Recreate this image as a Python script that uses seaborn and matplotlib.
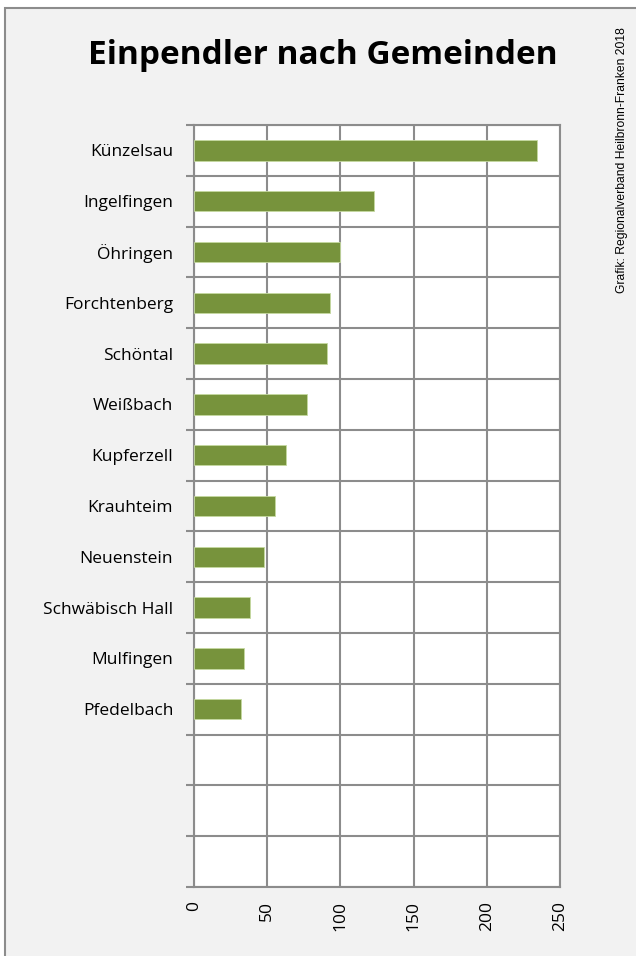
import matplotlib
matplotlib.use("Agg")
import matplotlib.pyplot as plt
import seaborn as sns
import pandas as pd
import numpy as np
from matplotlib.patches import Rectangle

gemeinden = ["Künzelsau", "Ingelfingen", "Öhringen", "Forchtenberg", "Schöntal",
             "Weißbach", "Kupferzell", "Krauhteim", "Neuenstein", "Schwäbisch Hall",
             "Mulfingen", "Pfedelbach"]
einpendler = [234, 123, 100, 93, 91, 77, 63, 55, 48, 38, 34, 32]
x_ticks = [0, 50, 100, 150, 200, 250]
n_slots = 15

sns.set_theme(style="white")
plt.rcParams['font.family'] = ['Open Sans', 'DejaVu Sans']

df = pd.DataFrame({"Gemeinde": gemeinden, "Einpendler": einpendler})

fig = plt.figure(figsize=(6.36, 9.56), dpi=100)
fig.patch.set_facecolor("white")
# background panel with border (right/bottom edges run off the canvas)
fig.patches.append(Rectangle((5/636, -0.05), 1.2, 1.05 - 8/956, transform=fig.transFigure,
                             facecolor="#f2f2f2", edgecolor="#8c8c8c", linewidth=1.5, zorder=-10))

ax = fig.add_axes([194/636, 1 - 887/956, 366/636, 762/956])
ax.set_facecolor("white")
sns.barplot(data=df, x="Einpendler", y="Gemeinde", orient="h", color="#77933c",
            saturation=1, width=0.4, ax=ax, edgecolor="#c5d9a0", linewidth=0.6, zorder=3)

ax.set_ylim(n_slots - 0.5, -0.5)
ax.set_xlim(0, 250)
ax.set_xticks(x_ticks)
ax.set_xticklabels([str(t) for t in x_ticks], rotation=90, fontsize=12.5, color="black")
ax.set_yticks(range(len(gemeinden)))
ax.set_yticklabels(gemeinden, fontsize=12.5, color="black")
ax.set_yticks(np.arange(-0.5, n_slots, 1.0), minor=True)
ax.tick_params(axis="y", which="major", length=0, pad=15)
ax.tick_params(axis="y", which="minor", length=6, width=1.5, color="#8c8c8c", left=True)
ax.tick_params(axis="x", which="major", length=0, pad=10)
ax.set_xlabel("")
ax.set_ylabel("")

ax.grid(axis="x", which="major", color="#8c8c8c", linewidth=1.5, zorder=0)
ax.grid(axis="y", which="minor", color="#8c8c8c", linewidth=1.5, zorder=0)
ax.set_axisbelow(True)
for s in ax.spines.values():
    s.set_visible(True)
    s.set_color("#8c8c8c")
    s.set_linewidth(1.5)

fig.text(323/636, 1 - 55/956, "Einpendler nach Gemeinden", ha="center", va="center",
         fontsize=24, fontweight="bold", color="black")
fig.text(622/636, 1 - 160/956, "Grafik: Regionalverband Heilbronn-Franken 2018",
         rotation=90, ha="center", va="center", fontsize=8.7,
         family=["Liberation Sans", "DejaVu Sans"], color="black")

fig.savefig("out.png", dpi=100, facecolor=fig.get_facecolor())
